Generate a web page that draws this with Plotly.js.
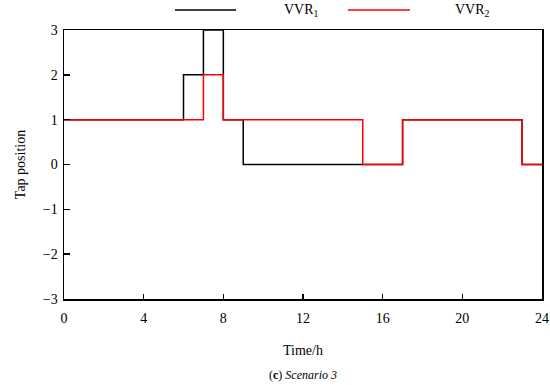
<!DOCTYPE html>
<html>
<head>
<meta charset="utf-8">
<script src="https://cdn.plot.ly/plotly-3.0.1.min.js"></script>
<style>html,body{margin:0;padding:0;background:#fff;}#chart{width:550px;height:385px;}</style>
</head>
<body>
<div id="chart"></div>
<script>
const hours = [0,1,2,3,4,5,6,7,8,9,10,11,12,13,14,15,16,17,18,19,20,21,22,23,24];
const vvr1  = [1,1,1,1,1,1,2,3,1,0,0,0,0,0,0,0,0,1,1,1,1,1,1,0,0];
const vvr2  = [1,1,1,1,1,1,1,2,1,1,1,1,1,1,1,0,0,1,1,1,1,1,1,0,0];
const seriesNames = ['VVR<sub>1</sub>', 'VVR<sub>2</sub>'];
const xTicks = [0,4,8,12,16,20,24];
const yTicks = [-3,-2,-1,0,1,2,3];

const font = {family: 'Liberation Serif, Times New Roman, serif', color: '#000', size: 14};

const traces = [
  {x: hours, y: vvr1, type: 'scatter', mode: 'lines', line: {shape: 'hv', color: '#000000', width: 1.5}, name: seriesNames[0], showlegend: false},
  {x: hours, y: vvr2, type: 'scatter', mode: 'lines', line: {shape: 'hv', color: '#ff0000', width: 1.5}, name: seriesNames[1], showlegend: false}
];

const layout = {
  width: 550, height: 385,
  margin: {l: 64, r: 8, t: 30, b: 86},
  paper_bgcolor: '#fff', plot_bgcolor: '#fff',
  font: font,
  showlegend: false,
  xaxis: {
    range: [0, 24], tickvals: xTicks, ticktext: xTicks.map(String),
    ticks: 'inside', ticklen: 5, tickwidth: 1.5, tickcolor: '#000',
    showline: true, linecolor: '#000', linewidth: 1.5, mirror: true,
    showgrid: false, zeroline: false, fixedrange: true,
    ticklabelstandoff: 6,
    tickfont: font,
    title: {text: 'Time/h', font: font, standoff: 20}
  },
  yaxis: {
    range: [-3, 3], tickvals: yTicks, ticktext: yTicks.map(v => v < 0 ? '\u2212' + Math.abs(v) : String(v)),
    ticks: 'inside', ticklen: 6, tickwidth: 1.5, tickcolor: '#000',
    showline: true, linecolor: '#000', linewidth: 1.5, mirror: true,
    showgrid: false, zeroline: false, fixedrange: true,
    ticklabelstandoff: 2,
    tickfont: font,
    title: {text: 'Tap position', font: font, standoff: 14}
  },
  shapes: [
    {type: 'line', xref: 'paper', yref: 'paper', x0: 0.2322, x1: 0.3598, y0: 1.0743, y1: 1.0743, line: {color: '#000', width: 1.5}},
    {type: 'line', xref: 'paper', yref: 'paper', x0: 0.594, x1: 0.7238, y0: 1.0743, y1: 1.0743, line: {color: '#ff0000', width: 1.5}}
  ],
  annotations: [
    {xref: 'paper', yref: 'paper', x: 0.456, y: 1.0743, xanchor: 'left', yanchor: 'middle', text: seriesNames[0], showarrow: false, font: font},
    {xref: 'paper', yref: 'paper', x: 0.8138, y: 1.0743, xanchor: 'left', yanchor: 'middle', text: seriesNames[1], showarrow: false, font: font},
    {xref: 'paper', yref: 'paper', x: 0.5, y: -0.283, xanchor: 'center', yanchor: 'middle', text: '(<b>c</b>) <i>Scenario 3</i>', showarrow: false, font: {family: font.family, color: '#000', size: 12}}
  ]
};

Plotly.newPlot('chart', traces, layout, {displayModeBar: false, staticPlot: true});
</script>
</body>
</html>
